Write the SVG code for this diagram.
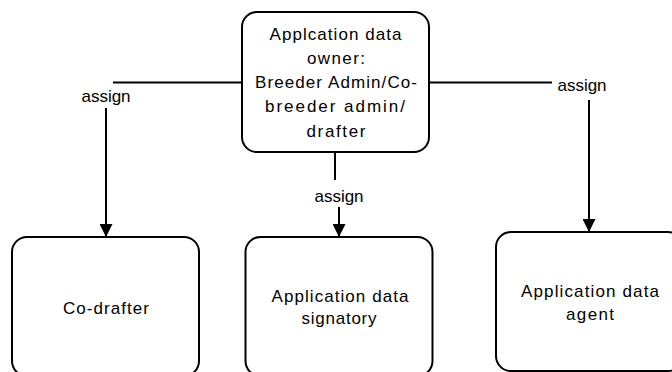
<svg xmlns="http://www.w3.org/2000/svg" width="672" height="372" viewBox="0 0 672 372">
  <style>
    .box { fill: #ffffff; stroke: #000000; stroke-width: 2; }
    .conn { fill: none; stroke: #000000; stroke-width: 2; }
    text { font-family: "Liberation Sans", Arial, sans-serif; font-size: 17px; fill: #000000; text-anchor: middle; }
  </style>
  <defs>
    <marker id="arrow" markerUnits="userSpaceOnUse" markerWidth="14" markerHeight="13" refX="13" refY="6.5" orient="auto">
      <path d="M0,0 L13,6.5 L0,13 Z" fill="#000000"/>
    </marker>
  </defs>
  <rect width="672" height="372" fill="#ffffff"/>

  <g id="connectors">
    <path class="conn" d="M242,82.5 H113"/>
    <path class="conn" d="M106,108 V237" marker-end="url(#arrow)"/>
    <text x="106" y="102">assign</text>

    <path class="conn" d="M429,82.5 H552"/>
    <path class="conn" d="M589,100 V232" marker-end="url(#arrow)"/>
    <text x="582" y="91">assign</text>

    <path class="conn" d="M335,152 V180"/>
    <path class="conn" d="M339,207 V237" marker-end="url(#arrow)"/>
    <text x="339" y="201.5">assign</text>
  </g>

  <g id="owner">
    <rect class="box" x="242" y="12" width="187" height="140" rx="15" ry="15"/>
    <text x="335.5" y="39.5" textLength="132" lengthAdjust="spacing">Applcation data</text>
    <text x="336" y="63.8" textLength="58" lengthAdjust="spacing">owner:</text>
    <text x="336" y="88.1" textLength="162" lengthAdjust="spacing">Breeder Admin/Co-</text>
    <text x="335" y="112.4" textLength="140" lengthAdjust="spacing">breeder admin/</text>
    <text x="336" y="136.7" textLength="59" lengthAdjust="spacing">drafter</text>
  </g>

  <g id="codrafter">
    <rect class="box" x="12" y="237" width="187" height="139" rx="15" ry="15"/>
    <text x="106" y="314" textLength="86" lengthAdjust="spacing">Co-drafter</text>
  </g>

  <g id="signatory">
    <rect class="box" x="245.5" y="237" width="187" height="139" rx="15" ry="15"/>
    <text x="340" y="301.5" textLength="137" lengthAdjust="spacing">Application data</text>
    <text x="339" y="324" textLength="75" lengthAdjust="spacing">signatory</text>
  </g>

  <g id="agent">
    <rect class="box" x="496" y="232" width="187" height="139" rx="15" ry="15"/>
    <text x="590" y="297" textLength="138" lengthAdjust="spacing">Application data</text>
    <text x="590" y="320" textLength="48" lengthAdjust="spacing">agent</text>
  </g>
</svg>
